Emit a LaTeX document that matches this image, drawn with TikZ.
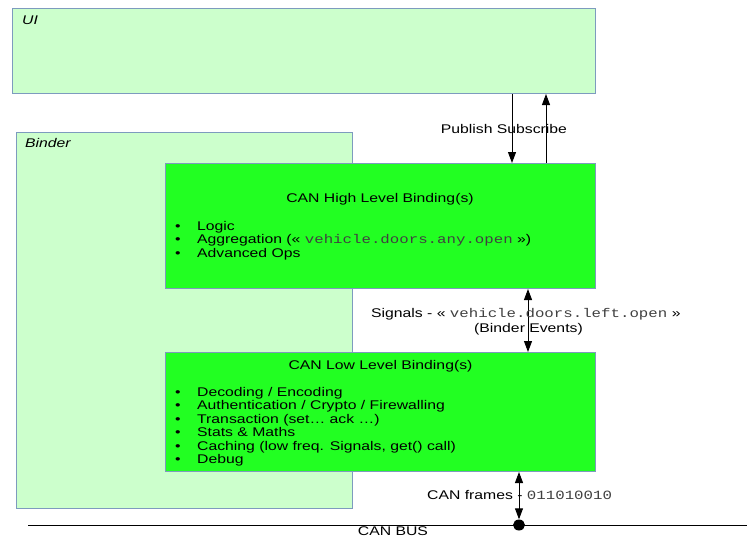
\documentclass[tikz,border=0pt]{standalone}
\usepackage{fontspec}
\setmainfont{Liberation Sans}[FakeStretch=1.25]
\setmonofont{Liberation Mono}[FakeStretch=1.25]
\usetikzlibrary{arrows.meta,shapes.geometric}
\definecolor{palegreen}{RGB}{204,255,204}
\definecolor{brightgreen}{RGB}{34,255,34}
\definecolor{boxedge}{RGB}{125,155,190}
\newcommand{\bodyfont}{\fontsize{12.6}{13.45}\selectfont}
\newcommand{\code}[1]{{\color{black!75}\texttt{#1}}}
\begin{document}
\begin{tikzpicture}[x=1pt,y=-1pt,
  palebox/.style={draw=boxedge,fill=palegreen,line width=1pt,anchor=north west,inner sep=0pt},
  greenbox/.style={draw=boxedge,fill=brightgreen,line width=1pt,anchor=north west,inner sep=0pt},
  txt/.style={inner sep=0pt,font=\bodyfont},
  conn/.style={line width=0.9pt,black},
  tip/.style={-{Triangle[length=11pt,width=8pt]}},
  dtip/.style={{Triangle[length=11pt,width=8pt]}-{Triangle[length=11pt,width=8pt]}}]
\useasboundingbox (0,0) rectangle (747,539);
% boxes
\node[palebox,minimum width=583pt,minimum height=85pt] (ui) at (12,8) {};
\node[palebox,minimum width=336pt,minimum height=376pt] (binder) at (16,132) {};
\node[greenbox,minimum width=430pt,minimum height=125pt] (high) at (165,163) {};
\node[greenbox,minimum width=430pt,minimum height=119pt] (low) at (165,352) {};
% box labels
\node[txt,anchor=base west,font=\bodyfont\itshape] (uilabel) at (22,24) {UI};
\node[txt,anchor=base west,font=\bodyfont\itshape] (binderlabel) at (25,147.5) {Binder};
\node[txt,anchor=base] (hightitle) at (380,202.5) {CAN High Level Binding(s)};
\node[txt,anchor=base west] (highlist) at (175,230.5) {\begin{tabular}[t]{@{}p{22pt}@{}l@{}}
•&Logic\\
•&Aggregation (« \code{vehicle.doors.any.open} »)\\
•&Advanced Ops
\end{tabular}};
\node[txt,anchor=base] (lowtitle) at (380.5,369.5) {CAN Low Level Binding(s)};
\node[txt,anchor=base west] (lowlist) at (175,396.5) {\begin{tabular}[t]{@{}p{22pt}@{}l@{}}
•&Decoding / Encoding\\
•&Authentication / Crypto / Firewalling\\
•&Transaction (set… ack …)\\
•&Stats \& Maths\\
•&Caching (low freq. Signals, get() call)\\
•&Debug
\end{tabular}};
% bus
\coordinate (busL) at (28,525);
\coordinate (busR) at (747,525);
\draw[line width=0.9pt] (busL) -- (busR);
\node[ellipse,fill=black,inner sep=0pt,minimum width=12pt,minimum height=11pt] (tap) at (519,525) {};
\node[txt,anchor=base] (buslabel) at (393,535.5) {CAN BUS};
% connectors
\coordinate (pubx) at (512,0);
\coordinate (subx) at (546,0);
\coordinate (sigx) at (528,0);
\draw[conn,tip] (ui.south -| pubx) -- (high.north -| pubx);
\draw[conn,tip] (high.north -| subx) -- (ui.south -| subx);
\draw[conn,dtip] (high.south -| sigx) -- (low.north -| sigx);
\draw[conn,dtip] (low.south -| tap) -- (tap.north);
% connector labels
\node[txt,anchor=base] (pslabel) at (504,133) {Publish Subscribe};
\node[txt,anchor=base west] (siglabel) at (371,317.5) {Signals - « \code{vehicle.doors.left.open} »};
\node[txt,anchor=base] (evlabel) at (528.5,332.5) {(Binder Events)};
\node[txt,anchor=base west] (framelabel) at (427,499) {CAN frames - \code{011010010}};
\end{tikzpicture}
\end{document}
